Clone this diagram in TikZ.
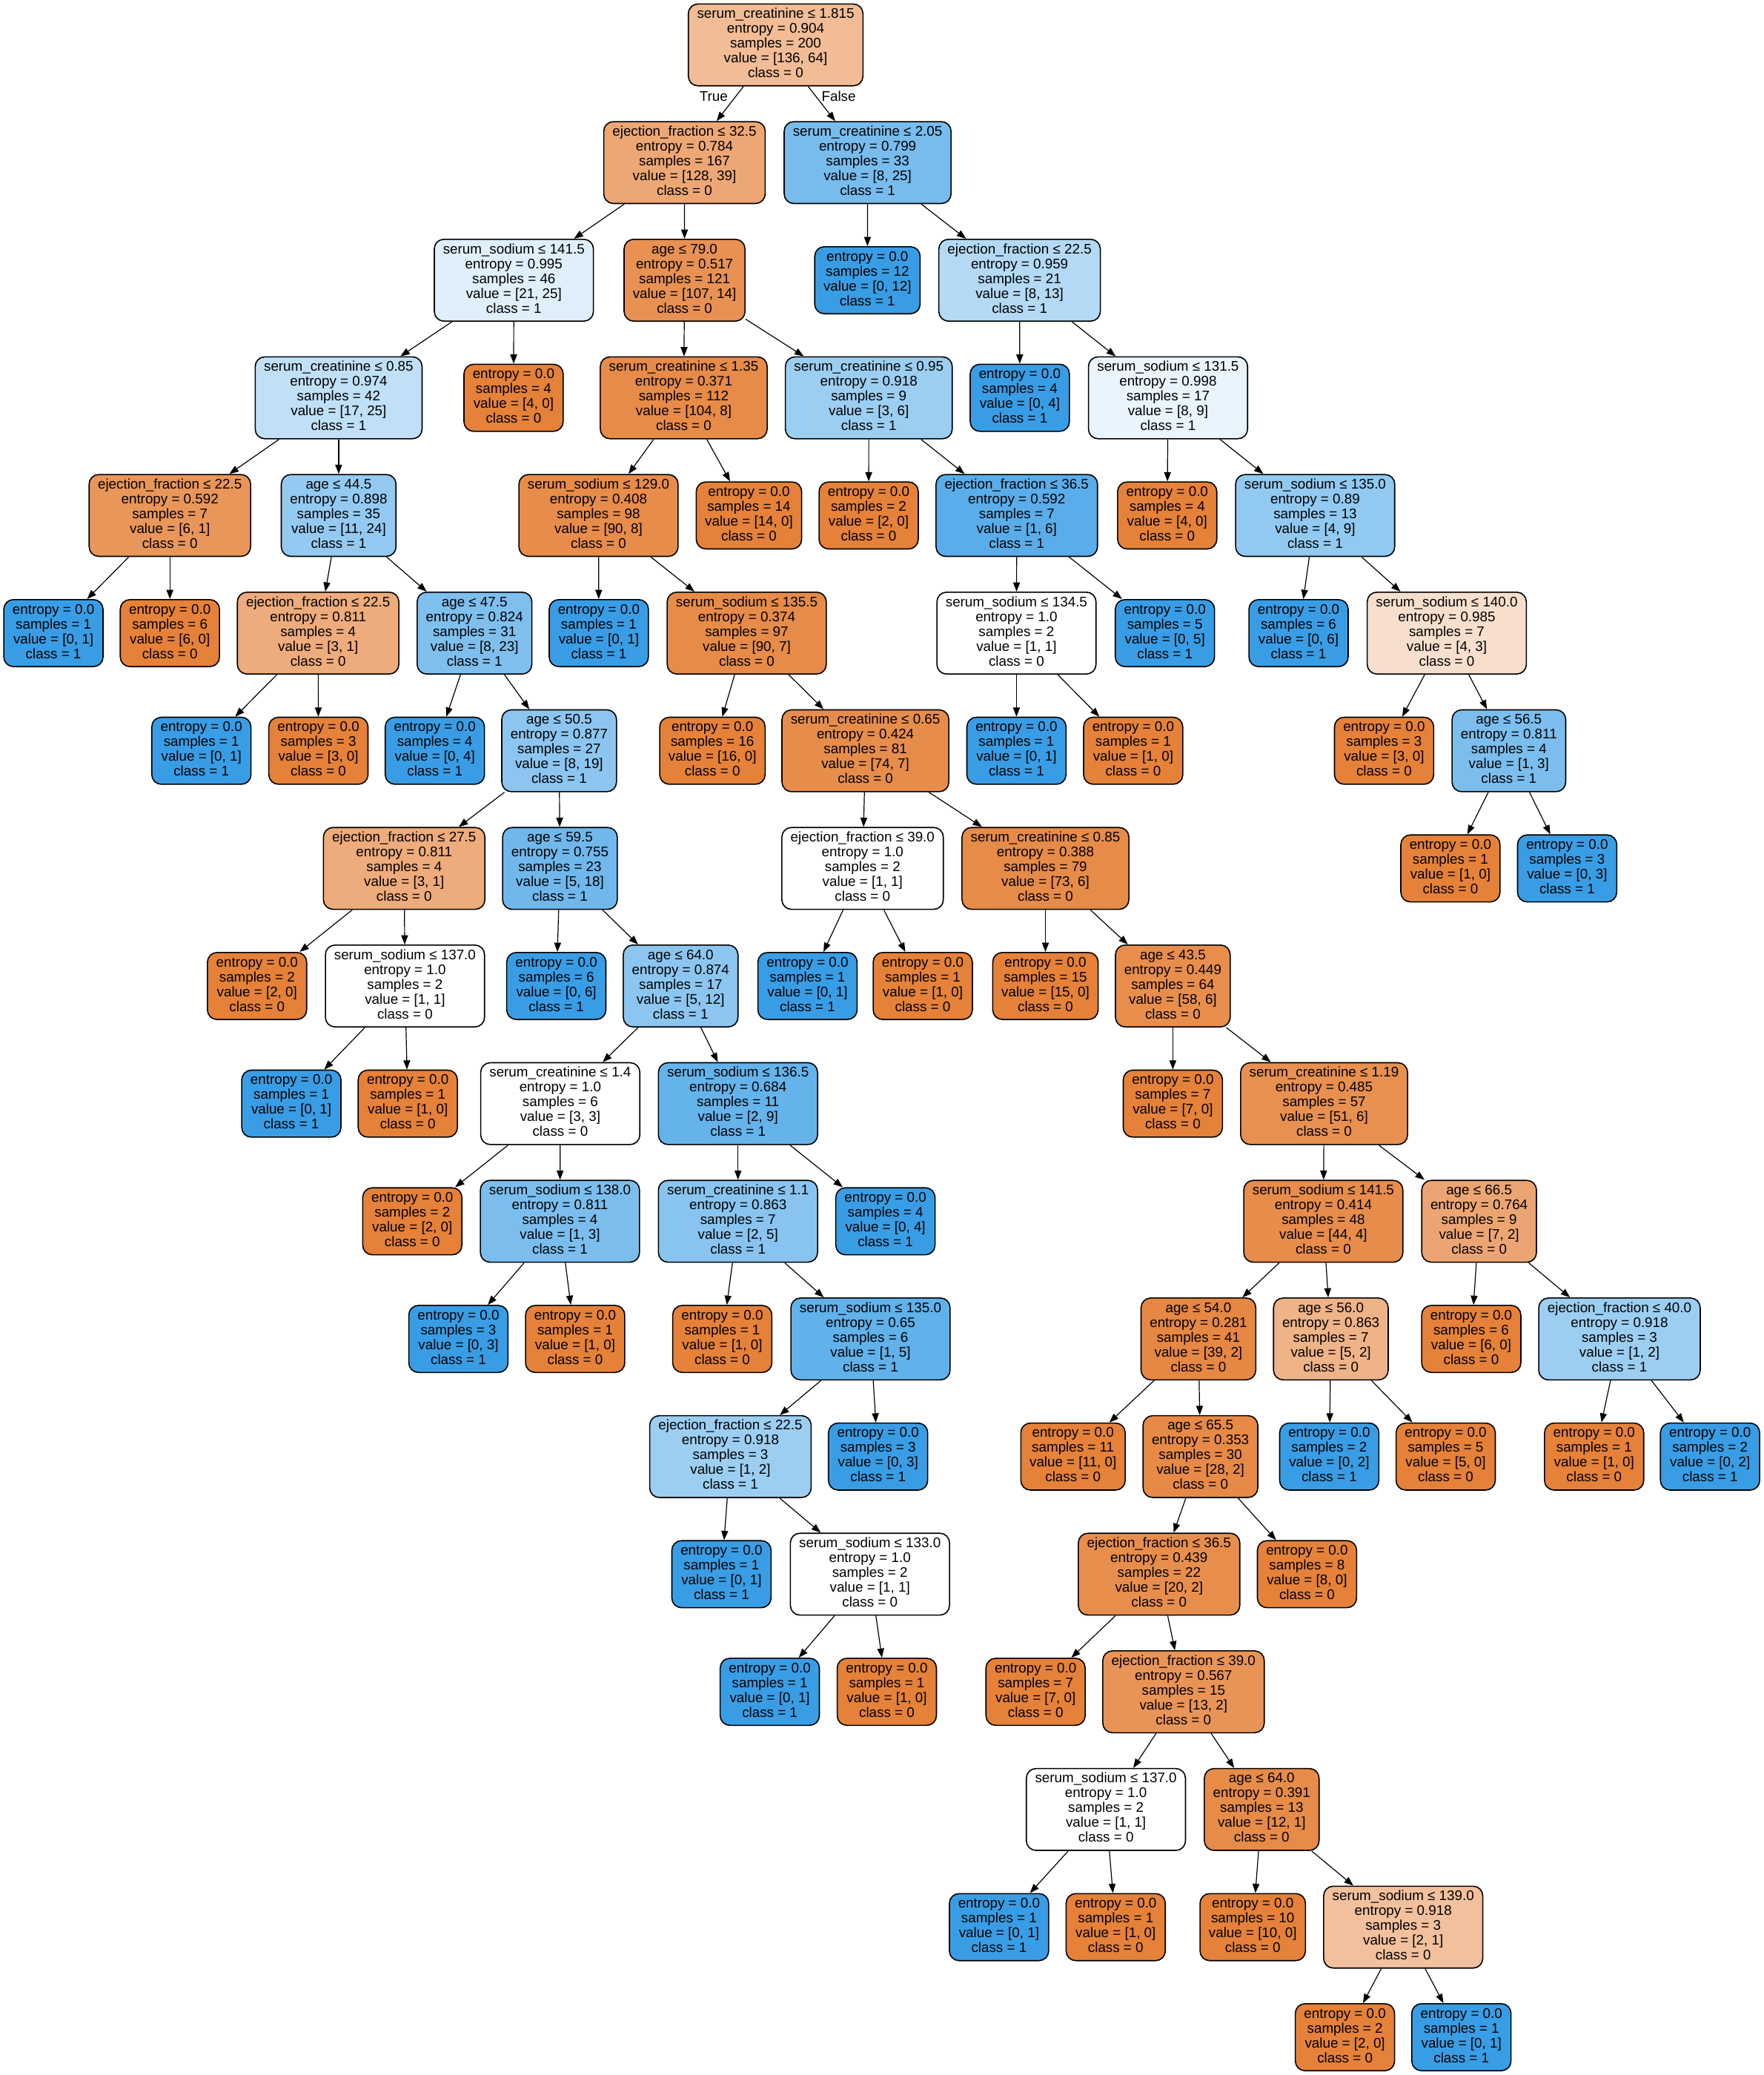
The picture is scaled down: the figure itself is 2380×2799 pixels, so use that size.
\documentclass[tikz,border=0pt]{standalone}
\usepackage{fontspec}
\setmainfont{Liberation Sans}
\usetikzlibrary{arrows.meta}
\definecolor{orng}{RGB}{229,129,57}
\definecolor{blu}{RGB}{57,157,229}
\newcommand\fSC{serum\_creatinine}
\newcommand\fSS{serum\_sodium}
\newcommand\fEF{ejection\_fraction}
\newcommand\fAG{age}
\newcommand\IN[6]{\strut#1 ≤ #2\\\strut entropy = #3\\\strut samples = #4\\\strut value = [#5]\\\strut class = #6}
\newcommand\LF[3]{\strut entropy = 0.0\\\strut samples = #1\\\strut value = [#2]\\\strut class = #3}
\tikzset{
  tnode/.style={draw=black, line width=0.8pt, rounded corners=6.5pt, align=center,
    inner xsep=5.9pt, inner ysep=2.6pt, font=\fontsize{9.4}{10}\selectfont},
  conn/.style={-{Triangle[length=6.2pt,width=4.6pt]}, line width=0.6pt, draw=black},
  tlab/.style={font=\fontsize{9.4}{10}\selectfont, inner sep=0pt}
}
\begin{document}
\begin{tikzpicture}[x=0.5pt,y=-0.5pt]
\fill[white] (0,0) rectangle (2380,2799);
\useasboundingbox (0,0) rectangle (2380,2799);
% level 0
\node[tnode, fill=orng!52.9] (root) at (1046.5,60.6) {\IN{\fSC}{1.815}{0.904}{200}{136, 64}{0}};
% level 1
\node[tnode, fill=orng!69.5] (A) at (923.5,219.3) {\IN{\fEF}{32.5}{0.784}{167}{128, 39}{0}};
\node[tnode, fill=blu!68] (B) at (1170.6,219.3) {\IN{\fSC}{2.05}{0.799}{33}{8, 25}{1}};
% level 2
\node[tnode, fill=blu!16] (C) at (693.3,378.0) {\IN{\fSS}{141.5}{0.995}{46}{21, 25}{1}};
\node[tnode, fill=orng!86.9] (D) at (923.6,378.0) {\IN{\fAG}{79.0}{0.517}{121}{107, 14}{0}};
\node[tnode, fill=blu] (E) at (1170.3,378.0) {\LF{12}{0, 12}{1}};
\node[tnode, fill=blu!38.5] (F) at (1375.6,378.0) {\IN{\fEF}{22.5}{0.959}{21}{8, 13}{1}};
% level 3
\node[tnode, fill=blu!32] (G) at (456.9,536.6) {\IN{\fSC}{0.85}{0.974}{42}{17, 25}{1}};
\node[tnode, fill=orng] (H) at (692.9,536.6) {\LF{4}{4, 0}{0}};
\node[tnode, fill=orng!92.3] (I) at (922.5,536.6) {\IN{\fSC}{1.35}{0.371}{112}{104, 8}{0}};
\node[tnode, fill=blu!50] (J) at (1172.2,536.6) {\IN{\fSC}{0.95}{0.918}{9}{3, 6}{1}};
\node[tnode, fill=blu] (K) at (1375.9,536.6) {\LF{4}{0, 4}{1}};
\node[tnode, fill=blu!11.1] (L) at (1575.9,536.6) {\IN{\fSS}{131.5}{0.998}{17}{8, 9}{1}};
% level 4
\node[tnode, fill=orng!83.3] (M) at (229.2,695.3) {\IN{\fEF}{22.5}{0.592}{7}{6, 1}{0}};
\node[tnode, fill=blu!54.2] (N) at (456.9,695.3) {\IN{\fAG}{44.5}{0.898}{35}{11, 24}{1}};
\node[tnode, fill=orng!91.1] (O) at (807.5,695.3) {\IN{\fSS}{129.0}{0.408}{98}{90, 8}{0}};
\node[tnode, fill=orng] (P) at (1010.5,695.3) {\LF{14}{14, 0}{0}};
\node[tnode, fill=orng] (Q) at (1172.0,695.3) {\LF{2}{2, 0}{0}};
\node[tnode, fill=blu!83.3] (R) at (1371.8,695.3) {\IN{\fEF}{36.5}{0.592}{7}{1, 6}{1}};
\node[tnode, fill=orng] (S) at (1574.8,695.3) {\LF{4}{4, 0}{0}};
\node[tnode, fill=blu!55.6] (T) at (1774.4,695.3) {\IN{\fSS}{135.0}{0.89}{13}{4, 9}{1}};
% level 5
\node[tnode, fill=blu] (U) at (72.1,854.0) {\LF{1}{0, 1}{1}};
\node[tnode, fill=orng] (V) at (229.2,854.0) {\LF{6}{6, 0}{0}};
\node[tnode, fill=orng!66.7] (W) at (429.2,854.0) {\IN{\fEF}{22.5}{0.811}{4}{3, 1}{0}};
\node[tnode, fill=blu!65.2] (X) at (640.2,854.0) {\IN{\fAG}{47.5}{0.824}{31}{8, 23}{1}};
\node[tnode, fill=blu] (Y) at (807.9,854.0) {\LF{1}{0, 1}{1}};
\node[tnode, fill=orng!92.2] (Z) at (1007.5,854.0) {\IN{\fSS}{135.5}{0.374}{97}{90, 7}{0}};
\node[tnode, fill=white] (AA) at (1371.4,854.0) {\IN{\fSS}{134.5}{1.0}{2}{1, 1}{0}};
\node[tnode, fill=blu] (AB) at (1571.7,854.0) {\LF{5}{0, 5}{1}};
\node[tnode, fill=blu] (AC) at (1752.0,854.0) {\LF{6}{0, 6}{1}};
\node[tnode, fill=orng!25] (AD) at (1952.0,854.0) {\IN{\fSS}{140.0}{0.985}{7}{4, 3}{0}};
% level 6
\node[tnode, fill=blu] (AE) at (271.7,1012.7) {\LF{1}{0, 1}{1}};
\node[tnode, fill=orng] (AF) at (429.6,1012.7) {\LF{3}{3, 0}{0}};
\node[tnode, fill=blu] (AG) at (586.7,1012.7) {\LF{4}{0, 4}{1}};
\node[tnode, fill=blu!57.9] (AH) at (754.4,1012.7) {\IN{\fAG}{50.5}{0.877}{27}{8, 19}{1}};
\node[tnode, fill=orng] (AI) at (961.2,1012.7) {\LF{16}{16, 0}{0}};
\node[tnode, fill=orng!90.5] (AJ) at (1167.6,1012.7) {\IN{\fSC}{0.65}{0.424}{81}{74, 7}{0}};
\node[tnode, fill=blu] (AK) at (1371.4,1012.7) {\LF{1}{0, 1}{1}};
\node[tnode, fill=orng] (AL) at (1528.9,1012.7) {\LF{1}{1, 0}{0}};
\node[tnode, fill=orng] (AM) at (1867.4,1012.7) {\LF{3}{3, 0}{0}};
\node[tnode, fill=blu!66.7] (AN) at (2035.8,1012.7) {\IN{\fAG}{56.5}{0.811}{4}{1, 3}{1}};
% level 7
\node[tnode, fill=orng!66.7] (AO) at (545.3,1171.4) {\IN{\fEF}{27.5}{0.811}{4}{3, 1}{0}};
\node[tnode, fill=blu!72.2] (AP) at (755.5,1171.4) {\IN{\fAG}{59.5}{0.755}{23}{5, 18}{1}};
\node[tnode, fill=white] (AQ) at (1163.8,1171.4) {\IN{\fEF}{39.0}{1.0}{2}{1, 1}{0}};
\node[tnode, fill=orng!91.8] (AR) at (1410.5,1171.4) {\IN{\fSC}{0.85}{0.388}{79}{73, 6}{0}};
\node[tnode, fill=orng] (AS) at (1956.9,1171.4) {\LF{1}{1, 0}{0}};
\node[tnode, fill=blu] (AT) at (2114.4,1171.4) {\LF{3}{0, 3}{1}};
% level 8
\node[tnode, fill=orng] (AU) at (346.8,1330.0) {\LF{2}{2, 0}{0}};
\node[tnode, fill=white] (AV) at (546.4,1330.0) {\IN{\fSS}{137.0}{1.0}{2}{1, 1}{0}};
\node[tnode, fill=blu] (AW) at (750.6,1330.0) {\LF{6}{0, 6}{1}};
\node[tnode, fill=blu!58.3] (AX) at (918.3,1330.0) {\IN{\fAG}{64.0}{0.874}{17}{5, 12}{1}};
\node[tnode, fill=blu] (AY) at (1089.5,1330.0) {\LF{1}{0, 1}{1}};
\node[tnode, fill=orng] (AZ) at (1245.0,1330.0) {\LF{1}{1, 0}{0}};
\node[tnode, fill=orng] (BA) at (1410.5,1330.0) {\LF{15}{15, 0}{0}};
\node[tnode, fill=orng!89.7] (BB) at (1582.4,1330.0) {\IN{\fAG}{43.5}{0.449}{64}{58, 6}{0}};
% level 9
\node[tnode, fill=blu] (BC) at (393.1,1488.7) {\LF{1}{0, 1}{1}};
\node[tnode, fill=orng] (BD) at (550.2,1488.7) {\LF{1}{1, 0}{0}};
\node[tnode, fill=white] (BE) at (755.9,1488.7) {\IN{\fSC}{1.4}{1.0}{6}{3, 3}{0}};
\node[tnode, fill=blu!77.8] (BF) at (995.7,1488.7) {\IN{\fSS}{136.5}{0.684}{11}{2, 9}{1}};
\node[tnode, fill=orng] (BG) at (1582.4,1488.7) {\LF{7}{7, 0}{0}};
\node[tnode, fill=orng!88.2] (BH) at (1786.5,1488.7) {\IN{\fSC}{1.19}{0.485}{57}{51, 6}{0}};
% level 10
\node[tnode, fill=orng] (BI) at (556.3,1647.4) {\LF{2}{2, 0}{0}};
\node[tnode, fill=blu!66.7] (BJ) at (755.5,1647.4) {\IN{\fSS}{138.0}{0.811}{4}{1, 3}{1}};
\node[tnode, fill=blu!60] (BK) at (995.7,1647.4) {\IN{\fSC}{1.1}{0.863}{7}{2, 5}{1}};
\node[tnode, fill=blu] (BL) at (1194.6,1647.4) {\LF{4}{0, 4}{1}};
\node[tnode, fill=orng!90.9] (BM) at (1785.4,1647.4) {\IN{\fSS}{141.5}{0.414}{48}{44, 4}{0}};
\node[tnode, fill=orng!71.4] (BN) at (1995.6,1647.4) {\IN{\fAG}{66.5}{0.764}{9}{7, 2}{0}};
% level 11
\node[tnode, fill=blu] (BO) at (618.5,1806.1) {\LF{3}{0, 3}{1}};
\node[tnode, fill=orng] (BP) at (776.0,1806.1) {\LF{1}{1, 0}{0}};
\node[tnode, fill=orng] (BQ) at (974.5,1806.1) {\LF{1}{1, 0}{0}};
\node[tnode, fill=blu!80] (BR) at (1174.5,1806.1) {\IN{\fSS}{135.0}{0.65}{6}{1, 5}{1}};
\node[tnode, fill=orng!94.9] (BS) at (1616.9,1806.1) {\IN{\fAG}{54.0}{0.281}{41}{39, 2}{0}};
\node[tnode, fill=orng!60] (BT) at (1795.6,1806.1) {\IN{\fAG}{56.0}{0.863}{7}{5, 2}{0}};
\node[tnode, fill=orng] (BU) at (1985.0,1806.1) {\LF{6}{6, 0}{0}};
\node[tnode, fill=blu!50] (BV) at (2185.0,1806.1) {\IN{\fEF}{40.0}{0.918}{3}{1, 2}{1}};
% level 12
\node[tnode, fill=blu!50] (BW) at (985.5,1964.8) {\IN{\fEF}{22.5}{0.918}{3}{1, 2}{1}};
\node[tnode, fill=blu] (BX) at (1184.7,1964.8) {\LF{3}{0, 3}{1}};
\node[tnode, fill=orng] (BY) at (1447.7,1964.8) {\LF{11}{11, 0}{0}};
\node[tnode, fill=orng!92.9] (BZ) at (1619.6,1964.8) {\IN{\fAG}{65.5}{0.353}{30}{28, 2}{0}};
\node[tnode, fill=blu] (CA) at (1793.4,1964.8) {\LF{2}{0, 2}{1}};
\node[tnode, fill=orng] (CB) at (1950.5,1964.8) {\LF{5}{5, 0}{0}};
\node[tnode, fill=orng] (CC) at (2150.8,1964.8) {\LF{1}{1, 0}{0}};
\node[tnode, fill=blu] (CD) at (2307.2,1964.8) {\LF{2}{0, 2}{1}};
% level 13
\node[tnode, fill=blu] (CE) at (973.4,2123.4) {\LF{1}{0, 1}{1}};
\node[tnode, fill=white] (CF) at (1173.7,2123.4) {\IN{\fSS}{133.0}{1.0}{2}{1, 1}{0}};
\node[tnode, fill=orng!90] (CG) at (1563.8,2123.4) {\IN{\fEF}{36.5}{0.439}{22}{20, 2}{0}};
\node[tnode, fill=orng] (CH) at (1763.4,2123.4) {\LF{8}{8, 0}{0}};
% level 14
\node[tnode, fill=blu] (CI) at (1038.6,2282.1) {\LF{1}{0, 1}{1}};
\node[tnode, fill=orng] (CJ) at (1196.5,2282.1) {\LF{1}{1, 0}{0}};
\node[tnode, fill=orng] (CK) at (1397.2,2282.1) {\LF{7}{7, 0}{0}};
\node[tnode, fill=orng!84.6] (CL) at (1596.8,2282.1) {\IN{\fEF}{39.0}{0.567}{15}{13, 2}{0}};
% level 15
\node[tnode, fill=white] (CM) at (1492.1,2440.8) {\IN{\fSS}{137.0}{1.0}{2}{1, 1}{0}};
\node[tnode, fill=orng!91.7] (CN) at (1702.3,2440.8) {\IN{\fAG}{64.0}{0.391}{13}{12, 1}{0}};
% level 16
\node[tnode, fill=blu] (CO) at (1347.9,2599.5) {\LF{1}{0, 1}{1}};
\node[tnode, fill=orng] (CP) at (1505.3,2599.5) {\LF{1}{1, 0}{0}};
\node[tnode, fill=orng] (CQ) at (1690.2,2599.5) {\LF{10}{10, 0}{0}};
\node[tnode, fill=orng!50] (CR) at (1893.2,2599.5) {\IN{\fSS}{139.0}{0.918}{3}{2, 1}{0}};
% level 17
\node[tnode, fill=orng] (CS) at (1814.6,2748.0) {\LF{2}{2, 0}{0}};
\node[tnode, fill=blu] (CT) at (1971.7,2748.0) {\LF{1}{0, 1}{1}};
% edge labels
\node[tlab] (lt) at (962.8,130) {True};
\node[tlab] (lf) at (1131.6,130) {False};
% connectors
\foreach \p/\c in {root/A,root/B,A/C,A/D,B/E,B/F,C/G,C/H,D/I,D/J,F/K,F/L,
  G/M,G/N,I/O,I/P,J/Q,J/R,L/S,L/T,M/U,M/V,N/W,N/X,O/Y,O/Z,R/AA,R/AB,T/AC,T/AD,
  W/AE,W/AF,X/AG,X/AH,Z/AI,Z/AJ,AA/AK,AA/AL,AD/AM,AD/AN,AH/AO,AH/AP,AJ/AQ,AJ/AR,
  AN/AS,AN/AT,AO/AU,AO/AV,AP/AW,AP/AX,AQ/AY,AQ/AZ,AR/BA,AR/BB,AV/BC,AV/BD,
  AX/BE,AX/BF,BB/BG,BB/BH,BE/BI,BE/BJ,BF/BK,BF/BL,BH/BM,BH/BN,BJ/BO,BJ/BP,
  BK/BQ,BK/BR,BM/BS,BM/BT,BN/BU,BN/BV,BR/BW,BR/BX,BS/BY,BS/BZ,BT/CA,BT/CB,
  BV/CC,BV/CD,BW/CE,BW/CF,BZ/CG,BZ/CH,CF/CI,CF/CJ,CG/CK,CG/CL,CL/CM,CL/CN,
  CM/CO,CM/CP,CN/CQ,CN/CR,CR/CS,CR/CT}
  \draw[conn] (\p) -- (\c);
\end{tikzpicture}
\end{document}
